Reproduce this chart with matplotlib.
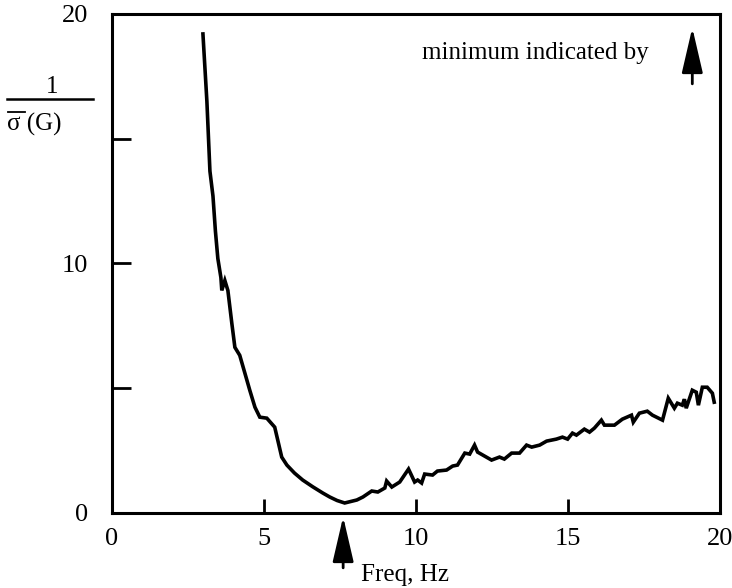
import matplotlib.pyplot as plt
from matplotlib.lines import Line2D

plt.rcParams['font.family'] = ['Liberation Serif', 'DejaVu Serif']

# frequency (Hz) and 1/sigma_bar(G)
freq = [2.99, 3.12, 3.22, 3.32, 3.4, 3.48, 3.58, 3.61, 3.71, 3.81, 3.94,
        4.04, 4.2, 4.37, 4.53, 4.7, 4.86, 5.09, 5.35, 5.45, 5.58, 5.75, 6.0,
        6.27, 6.6, 6.93, 7.16, 7.4, 7.65, 8.05, 8.25, 8.54, 8.74, 8.97, 9.03,
        9.2, 9.46, 9.75, 9.95, 10.05, 10.18, 10.28, 10.54, 10.7, 11.0, 11.2,
        11.36, 11.6, 11.76, 11.92, 12.02, 12.25, 12.48, 12.74, 12.9, 13.14,
        13.4, 13.63, 13.8, 14.06, 14.29, 14.61, 14.81, 14.98, 15.14, 15.27,
        15.53, 15.7, 15.86, 16.09, 16.19, 16.52, 16.78, 17.08, 17.14, 17.34,
        17.6, 17.77, 18.1, 18.29, 18.49, 18.59, 18.75, 18.82, 18.88, 19.08,
        19.21, 19.28, 19.41, 19.57, 19.74, 19.8]
inv_sigma = [19.2, 16.5, 13.7, 12.7, 11.3, 10.2, 9.44, 8.92, 9.32, 8.92, 7.6,
             6.64, 6.32, 5.6, 4.92, 4.24, 3.84, 3.8, 3.44, 2.92, 2.24, 1.92,
             1.6, 1.32, 1.05, 0.8, 0.64, 0.5, 0.4, 0.52, 0.64, 0.88, 0.84, 1.0,
             1.28, 1.04, 1.24, 1.76, 1.24, 1.32, 1.2, 1.56, 1.52, 1.68, 1.72,
             1.88, 1.92, 2.4, 2.36, 2.72, 2.44, 2.28, 2.12, 2.24, 2.16, 2.4,
             2.4, 2.72, 2.64, 2.72, 2.88, 2.96, 3.04, 2.96, 3.2, 3.12, 3.36,
             3.24, 3.4, 3.72, 3.52, 3.52, 3.76, 3.92, 3.64, 4.0, 4.08, 3.92,
             3.72, 4.6, 4.2, 4.4, 4.32, 4.56, 4.2, 4.92, 4.84, 4.32, 5.04, 5.04,
             4.8, 4.44]

f_min = 7.6

fig = plt.figure(figsize=(7.32, 5.88), dpi=100)
ax = fig.add_axes([0.153, 0.1276, 0.831, 0.8486])
ax.plot(freq, inv_sigma, color='black', lw=2.6, solid_joinstyle='miter')

ax.set_xlim(0, 20)
ax.set_ylim(0, 20)
ax.set_xticks([0, 5, 10, 15, 20])
ax.set_yticks([0, 5, 10, 15, 20])
ax.set_yticklabels(['0', '', '10', '', '20'])
ax.tick_params(axis='both', direction='in', width=2, labelsize=19,
               colors='black')
ax.tick_params(axis='y', length=14, pad=17)
ax.tick_params(axis='x', length=10, pad=11)
for sp in ax.spines.values():
    sp.set_linewidth(2.2)

arrow = dict(arrowstyle='-|>,head_length=2.8,head_width=0.65',
             mutation_scale=10, lw=2, color='black', shrinkA=0, shrinkB=0)

# arrow marking the minimum under the axis
ax.annotate('', xy=(f_min, -0.15), xytext=(f_min, -2.2),
            annotation_clip=False, arrowprops=arrow)
ax.text(8.2, -2.5, 'Freq, Hz', fontsize=18, ha='left', va='center')

ax.text(10.2, 18.45, 'minimum indicated by', fontsize=18, ha='left',
        va='center')
ax.annotate('', xy=(19.08, 19.45), xytext=(19.08, 17.2), arrowprops=arrow)

# y label drawn as a fraction
fig.text(52 / 732, 1 - 87 / 588, '1', fontsize=18, ha='center', va='center')
fig.add_artist(Line2D([7 / 732, 93 / 732], [1 - 99 / 588, 1 - 99 / 588],
                      color='black', lw=1.8))
fig.text(7 / 732, 1 - 124 / 588, 'σ (G)', fontsize=18, ha='left',
         va='center')
fig.add_artist(Line2D([8 / 732, 25 / 732], [1 - 112 / 588, 1 - 112 / 588],
                      color='black', lw=1.3))

fig.savefig('out.png', dpi=100)
